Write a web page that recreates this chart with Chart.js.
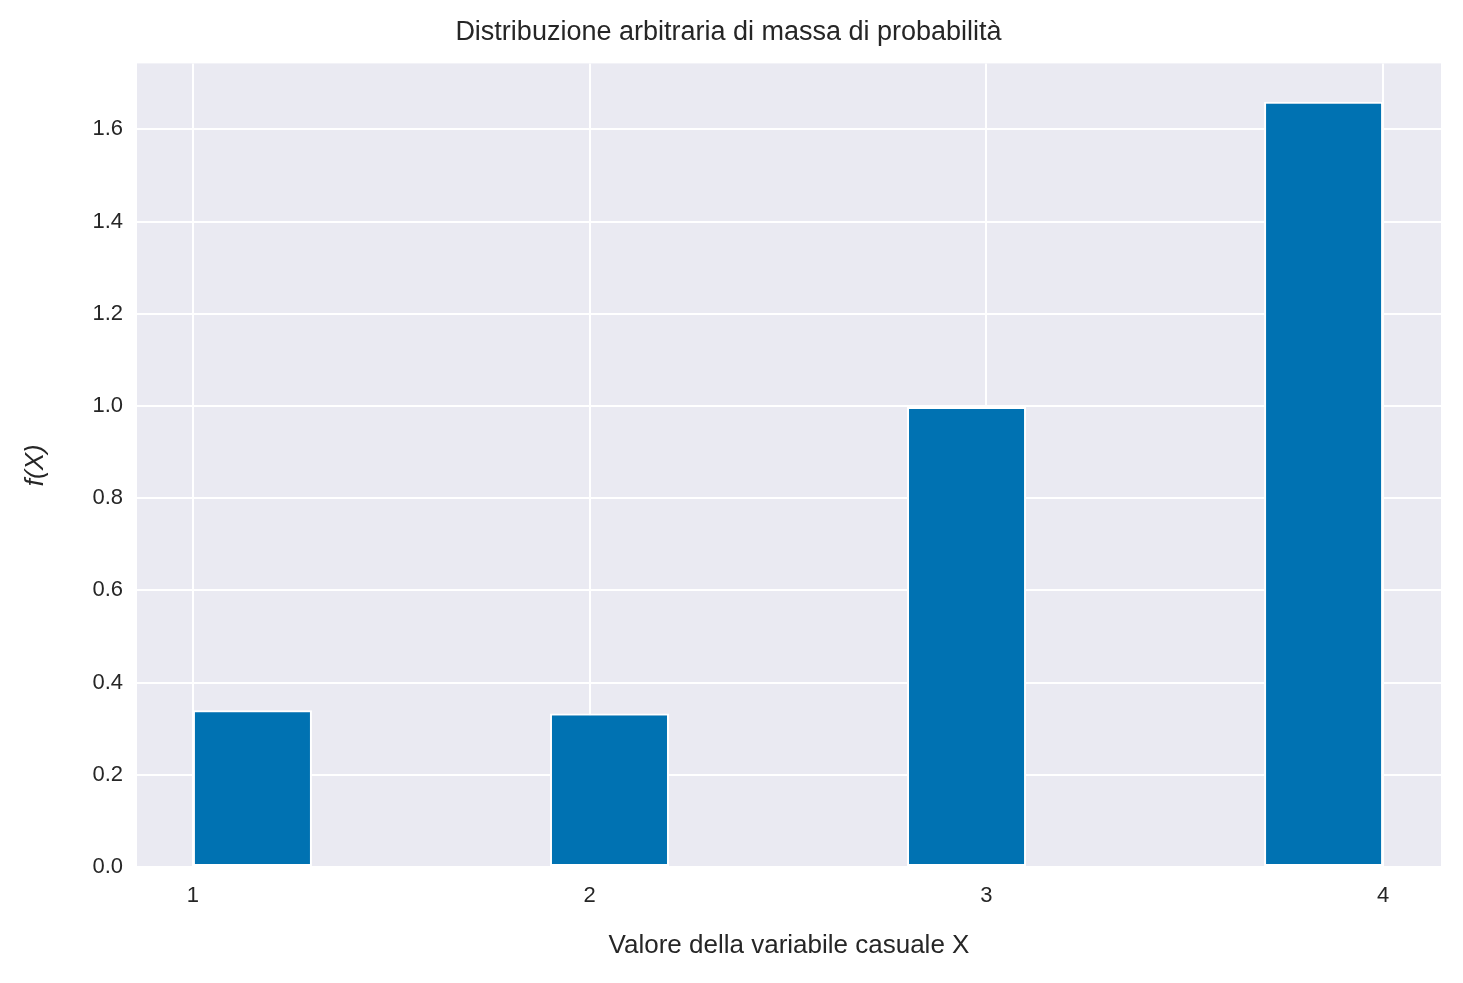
<!DOCTYPE html>
<html>
<head>
<meta charset="utf-8">
<script src="https://cdn.jsdelivr.net/npm/chart.js@4"></script>
<style>
  html, body { margin: 0; padding: 0; background: #fff; }
  #wrap { width: 1463px; height: 983px; }
</style>
</head>
<body>
<div id="wrap"><canvas id="chart"></canvas></div>
<script>
// histogram bins (left edge) and heights
var binStarts = [1.0, 1.9, 2.8, 3.7];
var binWidth = 0.3;
var densities = [0.34, 0.333, 0.998, 1.66];
var xTicks = [1, 2, 3, 4];
var yTicks = [0, 0.2, 0.4, 0.6, 0.8, 1.0, 1.2, 1.4, 1.6];

var points = binStarts.map(function (b, i) {
    return { x: b + binWidth / 2, y: densities[i] };
});

// paint the seaborn-like grey panel behind the grid
var panelBg = {
    id: 'panelBg',
    beforeDraw: function (chart) {
        var a = chart.chartArea, ctx = chart.ctx;
        ctx.save();
        ctx.fillStyle = '#EAEAF2';
        ctx.fillRect(a.left, a.top, a.right - a.left, a.bottom - a.top);
        ctx.restore();
    }
};

var font = "'Liberation Sans', Arial, sans-serif";
Chart.defaults.font.family = font;
Chart.defaults.color = '#262626';

new Chart(document.getElementById('chart').getContext('2d'), {
    type: 'bar',
    data: {
        datasets: [{
            data: points,
            backgroundColor: '#0072B2',
            borderColor: '#ffffff',
            borderWidth: 2,
            borderSkipped: false,
            categoryPercentage: 1,
            barPercentage: binWidth / 0.9
        }]
    },
    plugins: [panelBg],
    options: {
        responsive: true,
        maintainAspectRatio: false,
        animation: false,
        layout: { padding: { left: 16, right: 22, top: 0, bottom: 22 } },
        plugins: {
            legend: { display: false },
            tooltip: { enabled: false },
            title: {
                display: true,
                text: 'Distribuzione arbitraria di massa di probabilità',
                font: { size: 27, weight: 'normal' },
                color: '#262626',
                padding: { top: 16, bottom: 15 }
            }
        },
        scales: {
            x: {
                type: 'linear',
                offset: false,
                min: 0.859,
                max: 4.146,
                afterBuildTicks: function (axis) {
                    axis.ticks = xTicks.map(function (v) { return { value: v }; });
                },
                afterFit: function (axis) { axis.height = 94; },
                grid: { color: '#ffffff', lineWidth: 2, drawTicks: false, offset: false },
                border: { display: false },
                ticks: {
                    padding: 16,
                    font: { size: 22 },
                    color: '#262626',
                    callback: function (v) { return String(v); }
                },
                title: {
                    display: true,
                    text: 'Valore della variabile casuale X',
                    font: { size: 26 },
                    color: '#262626',
                    padding: { top: 4, bottom: 0 }
                }
            },
            y: {
                min: 0,
                max: 1.743,
                afterBuildTicks: function (axis) {
                    axis.ticks = yTicks.map(function (v) { return { value: v }; });
                },
                afterFit: function (axis) { axis.width = 121; },
                grid: { color: '#ffffff', lineWidth: 2, drawTicks: false },
                border: { display: false },
                ticks: {
                    padding: 14,
                    font: { size: 22 },
                    color: '#262626',
                    callback: function (v) { return v.toFixed(1); }
                },
                title: {
                    display: true,
                    text: 'f(X)',
                    font: { size: 26, style: 'italic' },
                    color: '#262626'
                }
            }
        }
    }
});
</script>
</body>
</html>
